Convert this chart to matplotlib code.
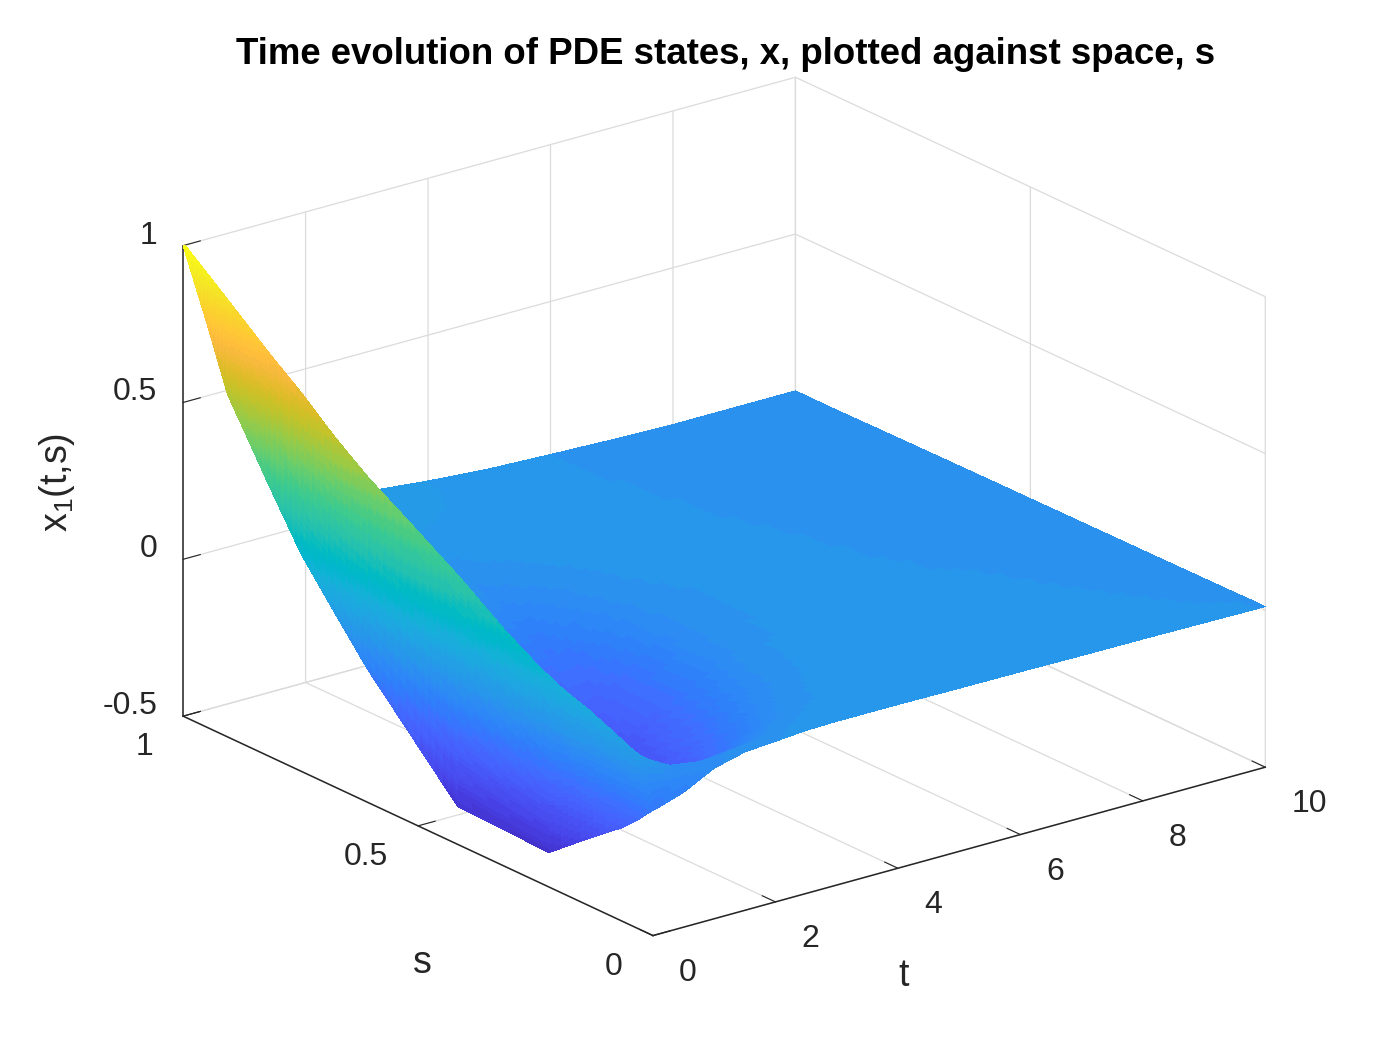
import numpy as np
import matplotlib
matplotlib.use("Agg")
import matplotlib.pyplot as plt
from matplotlib.colors import ListedColormap, Normalize
from mpl_toolkits.mplot3d import proj3d

plt.rcParams['font.family'] = ['Liberation Sans', 'DejaVu Sans']
plt.rcParams['axes.unicode_minus'] = False
plt.rcParams['mathtext.fontset'] = 'custom'
plt.rcParams['mathtext.rm'] = 'Liberation Sans'
plt.rcParams['mathtext.it'] = 'Liberation Sans'

# time samples (rows) and space samples (columns)
t = [0, 0.03, 0.5, 1, 1.5, 2, 2.5, 3, 3.5, 4, 5, 6, 7, 8, 9, 10]
s = [0, 0.03, 0.064, 0.14, 0.221, 0.32, 0.415, 0.51, 0.608, 0.68,
     0.75, 0.82, 0.866, 0.905, 0.95, 1.0]

# x1(t, s), one row per time sample
x1 = [
    [-0.10, -0.15, -0.20, -0.29, -0.39, -0.385, -0.38, -0.23, -0.075, 0.06, 0.195, 0.37, 0.49, 0.59, 0.79, 1.00],
    [-0.10, 0.045, 0.07, 0.12, 0.16, 0.25, 0.35, 0.44, 0.53, 0.61, 0.70, 0.78, 0.837, 0.885, 0.94, 1.00],
    [-0.07, -0.005, -0.06, -0.08, 0.06, 0.11, 0.17, 0.27, 0.37, 0.44, 0.505, 0.58, 0.635, 0.685, 0.74, 0.795],
    [-0.02, -0.02, -0.10, -0.15, -0.18, -0.05, 0.06, 0.12, 0.20, 0.27, 0.35, 0.42, 0.46, 0.50, 0.54, 0.60],
    [0.005, -0.01, -0.08, -0.20, -0.25, -0.22, -0.12, 0.03, 0.08, 0.125, 0.17, 0.24, 0.29, 0.34, 0.38, 0.43],
    [0.012, 0.0, -0.04, -0.15, -0.22, -0.25, -0.20, -0.12, -0.03, 0.035, 0.06, 0.11, 0.14, 0.165, 0.21, 0.25],
    [0.02, 0.015, 0.0, -0.07, -0.13, -0.18, -0.17, -0.12, -0.06, -0.02, 0.0, 0.03, 0.04, 0.05, 0.07, 0.10],
    [0.022, 0.02, 0.015, -0.01, -0.05, -0.09, -0.10, -0.07, -0.03, 0.0, 0.015, 0.03, 0.035, 0.04, 0.05, 0.055],
    [0.022, 0.022, 0.02, 0.012, 0.0, -0.02, -0.03, -0.02, 0.0, 0.012, 0.02, 0.028, 0.032, 0.036, 0.04, 0.045],
    [0.022, 0.022, 0.021, 0.019, 0.015, 0.01, 0.006, 0.008, 0.014, 0.018, 0.022, 0.026, 0.029, 0.031, 0.033, 0.035],
    [0.02, 0.02, 0.02, 0.02, 0.019, 0.018, 0.018, 0.018, 0.019, 0.019, 0.02, 0.02, 0.02, 0.02, 0.02, 0.02],
    [0.019, 0.019, 0.019, 0.018, 0.018, 0.017, 0.016, 0.016, 0.015, 0.014, 0.014, 0.013, 0.013, 0.012, 0.012, 0.012],
    [0.017, 0.017, 0.017, 0.016, 0.015, 0.014, 0.013, 0.012, 0.011, 0.010, 0.009, 0.008, 0.007, 0.006, 0.006, 0.005],
    [0.016, 0.016, 0.015, 0.014, 0.013, 0.012, 0.010, 0.009, 0.008, 0.007, 0.005, 0.004, 0.003, 0.002, 0.001, 0.0],
    [0.014, 0.014, 0.013, 0.012, 0.011, 0.010, 0.008, 0.007, 0.006, 0.005, 0.004, 0.003, 0.002, 0.001, 0.0, 0.0],
    [0.012, 0.012, 0.011, 0.010, 0.009, 0.008, 0.007, 0.006, 0.005, 0.004, 0.003, 0.002, 0.001, 0.0, 0.0, 0.0],
]

t_ticks = [0, 2, 4, 6, 8, 10]
s_ticks = [0, 0.5, 1]
z_ticks = [-0.5, 0, 0.5, 1]
t_labels = ['0', '2', '4', '6', '8', '10']
s_labels = ['0', '0.5', '1']
z_labels = ['-0.5', '0', '0.5', '1']

# MATLAB parula, 64 steps
parula = [
    [0.2422, 0.1504, 0.6603], [0.2504, 0.1650, 0.7076], [0.2578, 0.1818, 0.7511], [0.2647, 0.1978, 0.7952],
    [0.2706, 0.2147, 0.8364], [0.2751, 0.2342, 0.8710], [0.2783, 0.2559, 0.8991], [0.2803, 0.2782, 0.9221],
    [0.2813, 0.3006, 0.9414], [0.2810, 0.3228, 0.9579], [0.2795, 0.3447, 0.9717], [0.2760, 0.3667, 0.9829],
    [0.2699, 0.3892, 0.9906], [0.2602, 0.4123, 0.9952], [0.2440, 0.4358, 0.9988], [0.2206, 0.4603, 0.9973],
    [0.1963, 0.4847, 0.9892], [0.1834, 0.5074, 0.9798], [0.1786, 0.5289, 0.9682], [0.1764, 0.5499, 0.9520],
    [0.1687, 0.5703, 0.9359], [0.1540, 0.5902, 0.9218], [0.1460, 0.6091, 0.9079], [0.1380, 0.6276, 0.8973],
    [0.1248, 0.6459, 0.8883], [0.1113, 0.6635, 0.8763], [0.0952, 0.6798, 0.8598], [0.0689, 0.6948, 0.8394],
    [0.0297, 0.7082, 0.8163], [0.0036, 0.7203, 0.7917], [0.0067, 0.7312, 0.7660], [0.0433, 0.7411, 0.7394],
    [0.0964, 0.7500, 0.7120], [0.1408, 0.7584, 0.6842], [0.1717, 0.7670, 0.6554], [0.1938, 0.7758, 0.6251],
    [0.2161, 0.7843, 0.5923], [0.2470, 0.7918, 0.5567], [0.2906, 0.7973, 0.5188], [0.3406, 0.8008, 0.4789],
    [0.3909, 0.8029, 0.4354], [0.4456, 0.8024, 0.3909], [0.5044, 0.7993, 0.3480], [0.5616, 0.7942, 0.3045],
    [0.6174, 0.7876, 0.2612], [0.6720, 0.7793, 0.2227], [0.7242, 0.7698, 0.1910], [0.7738, 0.7598, 0.1646],
    [0.8203, 0.7498, 0.1535], [0.8634, 0.7406, 0.1596], [0.9035, 0.7330, 0.1774], [0.9393, 0.7288, 0.2100],
    [0.9728, 0.7298, 0.2394], [0.9956, 0.7434, 0.2371], [0.9970, 0.7659, 0.2199], [0.9952, 0.7893, 0.2028],
    [0.9892, 0.8136, 0.1885], [0.9786, 0.8386, 0.1766], [0.9676, 0.8639, 0.1643], [0.9610, 0.8890, 0.1537],
    [0.9597, 0.9135, 0.1423], [0.9628, 0.9373, 0.1265], [0.9691, 0.9606, 0.1064], [0.9769, 0.9839, 0.0805],
]
cmap = ListedColormap(parula, name='parula')
norm = Normalize(vmin=-0.47, vmax=1.0)


def split_axis(v, counts):
    v = np.asarray(v, float)
    parts = [np.linspace(v[i], v[i + 1], counts[i], endpoint=False) for i in range(len(v) - 1)]
    return np.concatenate(parts + [v[-1:]])


def subdivide(tv, sv, zv, t_counts, s_count):
    # split mesh cells so colours blend like MATLAB's interpolated shading
    tf = split_axis(tv, t_counts)
    sf = split_axis(sv, [s_count] * (len(sv) - 1))
    zv = np.asarray(zv, float)
    zs = np.array([np.interp(sf, sv, row) for row in zv])
    zf = np.array([np.interp(tf, tv, col) for col in zs.T]).T
    return tf, sf, zf


W, H = 1400, 1050
ink = (0.15, 0.15, 0.15)
fig = plt.figure(figsize=(W / 100, H / 100), dpi=100, facecolor='white')
ax = fig.add_axes([0, 0, 1, 1], projection='3d')
ax.set_proj_type('ortho')
ax.view_init(elev=21, azim=-127.5)
ax.set_box_aspect((1, 1, 0.653))

t_counts = [40] + [6] * (len(t) - 2)
tf, sf, zf = subdivide(t, s, x1, t_counts, 6)
TT, SS = np.meshgrid(tf, sf, indexing='ij')
ax.plot_surface(TT, SS, zf, cmap=cmap, norm=norm, rstride=1, cstride=1,
                linewidth=0, antialiased=False, shade=False)

ax.set_xlim(0, 10)
ax.set_ylim(0, 1)
ax.set_zlim(-0.5, 1)
ax.set_xticks(t_ticks, labels=[''] * len(t_ticks))
ax.set_yticks(s_ticks, labels=[''] * len(s_ticks))
ax.set_zticks(z_ticks, labels=[''] * len(z_ticks))

grid_col = (0.86, 0.86, 0.86, 1.0)
for axis in (ax.xaxis, ax.yaxis, ax.zaxis):
    axis.set_pane_color((1, 1, 1, 0))
    axis.pane.set_edgecolor(grid_col)
    axis._axinfo['grid'].update(color=grid_col, linewidth=0.9)
    axis._axinfo['tick'].update(inward_factor=0.0, outward_factor=0.35)
    axis._axinfo['tick']['color'] = 'black'
    axis.line.set_color(ink)
    axis.line.set_linewidth(1.1)
    axis.set_tick_params(colors=ink)


def to_pixels(pts3d):
    M = ax.get_proj()
    out = []
    for px, py, pz in pts3d:
        xp, yp, _ = proj3d.proj_transform(px, py, pz, M)
        out.append(ax.transData.transform((xp, yp)))
    return np.array(out)


# place the projected box where the reference has it
fig.canvas.draw()
corners = [(0, 0, -0.5), (10, 0, -0.5), (0, 1, -0.5), (0, 1, 1), (10, 0, 1), (10, 1, 1)]
targets = [(653, 935.5), (1266, 766), (182.6, 716), (182.6, 246), (1266, 295), (795, 80)]
pts = to_pixels(corners)
tgt = np.array([(px, H - py) for px, py in targets])
pm, qm = pts.mean(axis=0), tgt.mean(axis=0)
k = np.sum((pts - pm) * (tgt - qm)) / np.sum((pts - pm) ** 2)
off = qm - k * pm
bb = ax.get_position(original=False)
cx0 = (bb.x0 + bb.width / 2) * W
cy0 = (bb.y0 + bb.height / 2) * H
side = bb.width * W * k
ncx, ncy = off[0] + k * cx0, off[1] + k * cy0
ax.set_position([(ncx - side / 2) / W, (ncy - side / 2) / H, side / W, side / H])
fig.canvas.draw()

ax.set_xlabel('')
ax.set_ylabel('')
ax.set_zlabel('')

# tick labels set next to the projected tick positions, MATLAB style
tick_font = 23
for val, lab in zip(z_ticks, z_labels):
    px, py = to_pixels([(0, 1, val)])[0]
    fig.text((px - 26) / W, (py + 10) / H, lab, fontsize=tick_font, ha='right', va='center', color=ink)
for val, lab in zip(s_ticks, s_labels):
    px, py = to_pixels([(0, val, -0.5)])[0]
    fig.text((px - 30) / W, (py - 31) / H, lab, fontsize=tick_font, ha='right', va='center', color=ink)
for val, lab in zip(t_ticks, t_labels):
    px, py = to_pixels([(val, 0, -0.5)])[0]
    fig.text((px + 26) / W, (py - 37) / H, lab, fontsize=tick_font, ha='left', va='center', color=ink)

label_font = 27
fig.text(904 / W, 1 - 976 / H, 't', fontsize=label_font, ha='center', va='center', color=ink)
fig.text(422 / W, 1 - 963 / H, 's', fontsize=label_font, ha='center', va='center', color=ink)
fig.text(57 / W, 1 - 482 / H, r'$\mathregular{x_1(t{,}s)}$', fontsize=label_font, rotation=90,
         ha='center', va='center', color=ink)
fig.text(726 / W, 1 - 55 / H, 'Time evolution of PDE states, x, plotted against space, s',
         fontsize=26.4, fontweight='bold', ha='center', va='center')

fig.savefig('out.png', dpi=100)
